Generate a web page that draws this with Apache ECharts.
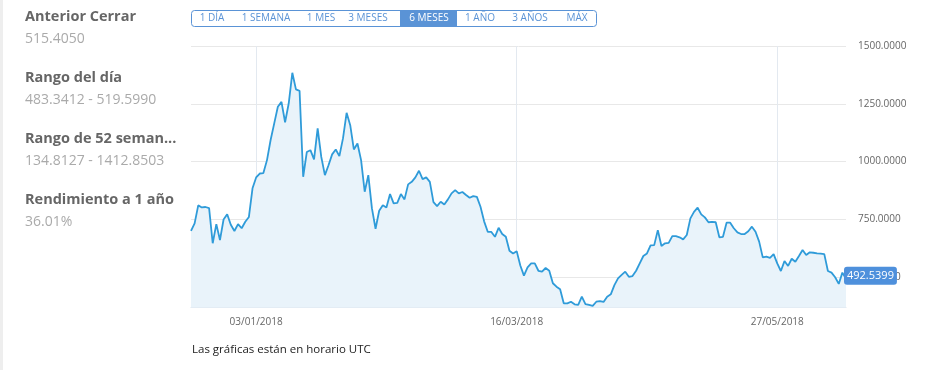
<!DOCTYPE html>
<html><head><meta charset="utf-8">
<script src="https://cdn.jsdelivr.net/npm/echarts@6/dist/echarts.min.js"></script>
<style>html,body{margin:0;padding:0;background:#fff}#c{width:938px;height:370px}</style>
</head><body><div id="c"></div>
<script>
// ---- data ----
const startDate = '2017-12-16';
const labelDates = ['03/01/2018', '16/03/2018', '27/05/2018'];
const prices = [
700,732,810,801,803,798,646,729,660,749,
772,726,699,729,711,739,760,884,931,948,
950,1006,1093,1165,1237,1258,1170,1251,1384,1312,
1306,934,1041,1049,1009,1143,1020,941,984,1031,
1052,1023,1100,1211,1157,1052,1078,1006,869,941,
797,709,787,811,801,859,819,821,859,836,
901,912,931,960,924,931,912,824,807,826,
814,836,862,876,862,868,855,843,850,847,
804,741,696,695,674,713,686,674,614,602,
612,550,506,542,559,559,527,523,539,527,
473,458,447,386,386,393,382,379,415,383,
379,375,393,396,392,415,425,465,494,509,
523,501,504,527,559,591,602,637,638,703,
634,646,648,677,677,672,663,682,754,782,
800,771,758,737,739,737,672,674,735,735,
711,693,686,686,698,718,696,653,585,588,
583,599,559,526,569,548,579,566,591,617,
595,607,605,602,601,599,526,519,499,470,
519,492.5399
];
const yTicks = [500, 750, 1000, 1250, 1500];
const stats = [
  ['Anterior Cerrar', '515.4050'],
  ['Rango del día', '483.3412 - 519.5990'],
  ['Rango de 52 seman...', '134.8127 - 1412.8503'],
  ['Rendimiento a 1 año', '36.01%']
];
const ranges = ['1 DÍA', '1 SEMANA', '1 MES', '3 MESES', '6 MESES', '1 AÑO', '3 AÑOS', 'MÁX'];
const activeRange = '6 MESES';

// ---- categories ----
const categories = [];
{
  const d0 = new Date(startDate + 'T00:00:00Z');
  for (let i = 0; i < prices.length; i++) {
    const d = new Date(d0.getTime() + i * 86400000);
    const dd = String(d.getUTCDate()).padStart(2, '0');
    const mm = String(d.getUTCMonth() + 1).padStart(2, '0');
    categories.push(dd + '/' + mm + '/' + d.getUTCFullYear());
  }
}
const labelIdx = new Set(labelDates.map(l => categories.indexOf(l)));

const FONT = '"Open Sans", sans-serif';
const graphic = [];
graphic.push({type: 'rect', left: 0, top: 0, shape: {width: 3, height: 370}, style: {fill: '#eeeeee'}});
const statCenters = [17, 78, 139, 200];
stats.forEach((s, i) => {
  graphic.push({type: 'text', x: 25, y: statCenters[i], style: {text: s[0], font: 'bold 14.5px ' + FONT, fill: '#666666', verticalAlign: 'middle'}});
  graphic.push({type: 'text', x: 25, y: statCenters[i] + 22, style: {text: s[1], font: '14px ' + FONT, fill: '#aaaaaa', verticalAlign: 'middle'}});
});
// range buttons
const btnCenters = [212, 266, 321, 368, 429, 480, 530, 577];
graphic.push({type: 'rect', left: 191, top: 10, shape: {width: 405, height: 16, r: 3}, style: {fill: '#fff', stroke: '#5a93d6', lineWidth: 1}});
ranges.forEach((r, i) => {
  if (r === activeRange) {
    graphic.push({type: 'rect', left: 400, top: 10, shape: {width: 57, height: 16}, style: {fill: '#5a93d6'}});
  }
});
ranges.forEach((r, i) => {
  graphic.push({type: 'text', x: btnCenters[i], y: 18, style: {text: r, font: '10px ' + FONT, fill: r === activeRange ? '#ffffff' : '#5a93d6', align: 'center', verticalAlign: 'middle'}});
});
graphic.push({type: 'text', x: 192, y: 350, style: {text: 'Las gráficas están en horario UTC', font: '11.5px ' + FONT, fill: '#222222', verticalAlign: 'middle'}});

const chart = echarts.init(document.getElementById('c'));
chart.setOption({
  animation: false,
  textStyle: {fontFamily: FONT},
  grid: {left: 191, right: 92, top: 46, bottom: 62.5},
  graphic: graphic,
  xAxis: {
    type: 'category', data: categories, boundaryGap: false,
    axisTick: {show: false},
    axisLine: {lineStyle: {color: '#dde5ee'}},
    axisLabel: {interval: (i) => labelIdx.has(i), color: '#666', fontSize: 10, margin: 10},
    splitLine: {show: true, interval: (i) => labelIdx.has(i), lineStyle: {color: '#e3e9f0'}}
  },
  yAxis: {
    type: 'value', position: 'right', min: 368, max: 1500,
    minInterval: 250, maxInterval: 250,
    axisLine: {show: false}, axisTick: {show: false},
    axisLabel: {color: '#666', fontSize: 10, margin: 12,
      formatter: (v) => yTicks.includes(v) ? v.toFixed(4) : ''},
    splitLine: {lineStyle: {color: '#e8e8e8'}}
  },
  series: [{
    type: 'line', data: prices, symbol: 'none',
    lineStyle: {color: '#2f9bd9', width: 1.8},
    areaStyle: {color: '#e9f3fa', opacity: 1},
    endLabel: {show: true, formatter: (p) => p.value.toFixed(4), color: '#fff', fontSize: 11,
      backgroundColor: '#4e90dc', borderRadius: 3, padding: [4, 3, 3, 3], distance: 0, offset: [-2, -3]}
  }]
});
</script></body></html>
